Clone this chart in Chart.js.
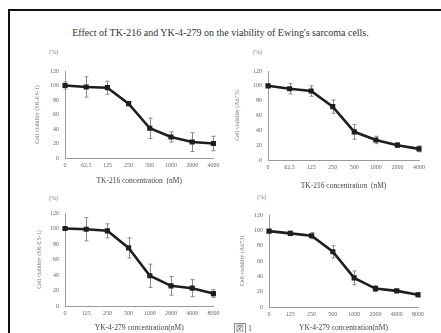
<!DOCTYPE html>
<html>
<head>
<meta charset="utf-8">
<script src="https://cdn.jsdelivr.net/npm/chart.js@4.4.1/dist/chart.umd.min.js"></script>
<style>
body { margin: 0; background: #fff; width: 441px; height: 333px; overflow: hidden; position: relative; font-family: "Liberation Serif", "DejaVu Serif", serif; }
.frame { position: absolute; left: 8px; top: 9px; width: 460px; height: 400px; border-left: 2px solid #111; border-top: 2px solid #111; }
.title { position: absolute; left: 0; width: 441px; top: 27px; text-align: center; font-size: 10px; color: #333; }
.pct { position: absolute; font-size: 6px; color: #777; }
.fig { position: absolute; left: 234px; top: 323px; font-size: 8px; color: #555; }
.fig span { border: 1px solid #888; padding: 0 1px; margin-right: 2px; }
canvas { position: absolute; }
</style>
</head>
<body>
<div class="frame"></div>
<div class="title">Effect of TK-216 and YK-4-279 on the viability of Ewing's sarcoma cells.</div>
<div class="pct" style="left:49px;top:49px">(%)</div>
<div class="pct" style="left:253px;top:49px">(%)</div>
<div class="pct" style="left:49px;top:195px">(%)</div>
<div class="pct" style="left:257px;top:194px">(%)</div>
<canvas id="c1" width="206" height="135" style="left:14px;top:60px"></canvas>
<canvas id="c2" width="219" height="135" style="left:222px;top:60px"></canvas>
<canvas id="c3" width="206" height="130" style="left:14px;top:203px"></canvas>
<canvas id="c4" width="219" height="128" style="left:222px;top:205px"></canvas>
<div class="fig"><span>図</span>1</div>
<script>
// 濃度ラベル
const dosisTK = ['0', '62.5', '125', '250', '500', '1000', '2000', '4000'];
const dosisYK = ['0', '125', '250', '500', '1000', '2000', '4000', '8000'];

// viabilidad (%) y error
const skesTK = [100, 98, 97, 75, 41, 29, 22, 20];
const errSkesTK = [5, 14, 9, 3, 14, 7, 13, 10];
const a673TK = [100, 96, 93, 72, 38, 27, 20, 15];
const errA673TK = [2, 7, 7, 9, 10, 5, 3, 4];
const skesYK = [100, 99, 97, 75, 39, 26, 23, 16];
const errSkesYK = [2, 15, 9, 13, 15, 12, 11, 5];
const a673YK = [99, 96, 93, 72, 38, 24, 21, 16];
const errA673YK = [2, 3, 4, 8, 9, 4, 2, 3];

const ticksY = [0, 20, 40, 60, 80, 100, 120];

const fuente = '"Liberation Serif", "DejaVu Serif", serif';

const barrasError = {
    id: 'barrasError',
    beforeDatasetsDraw(chart) {
        const ctx = chart.ctx;
        const ds = chart.data.datasets[0];
        const y = chart.scales.y;
        ctx.save();
        ctx.strokeStyle = '#8a8a8a';
        ctx.lineWidth = 1;
        chart.getDatasetMeta(0).data.forEach((pt, i) => {
            const arriba = y.getPixelForValue(ds.data[i] + ds.errores[i]);
            const abajo = y.getPixelForValue(ds.data[i] - ds.errores[i]);
            const x = Math.round(pt.x) + 0.5;
            ctx.beginPath();
            ctx.moveTo(x, arriba); ctx.lineTo(x, abajo);
            ctx.moveTo(x - 2, arriba); ctx.lineTo(x + 2, arriba);
            ctx.moveTo(x - 2, abajo); ctx.lineTo(x + 2, abajo);
            ctx.stroke();
        });
        ctx.restore();
    }
};

function crearPanel(id, etiquetas, valores, errores, tituloY, tituloX, caja) {
    new Chart(document.getElementById(id), {
        type: 'line',
        data: {
            labels: etiquetas,
            datasets: [{
                data: valores,
                errores: errores,
                borderColor: '#1e1e1e',
                backgroundColor: '#1e1e1e',
                borderWidth: 2.6,
                pointStyle: 'rect',
                pointRadius: 1.8,
                tension: 0
            }]
        },
        options: {
            responsive: false,
            animation: false,
            devicePixelRatio: 1,
            layout: { padding: { top: caja.arriba, right: caja.derecha, left: 0, bottom: 0 } },
            plugins: { legend: { display: false }, tooltip: { enabled: false } },
            scales: {
                x: {
                    offset: false,
                    grid: { display: false, drawTicks: false },
                    border: { color: '#9a9a9a', width: 1 },
                    ticks: { font: { family: fuente, size: 6 }, color: '#666', padding: 4, maxRotation: 0, autoSkip: false },
                    title: { display: true, text: tituloX, font: { family: fuente, size: 7.5 }, color: '#444', padding: { top: 0, bottom: caja.padX } },
                    afterFit(s) { s.height = caja.altoX; s.paddingLeft = 0; s.paddingRight = 0; }
                },
                y: {
                    min: 0,
                    max: 120,
                    afterBuildTicks(s) { s.ticks = ticksY.map(v => ({ value: v })); },
                    grid: { display: false, drawTicks: false },
                    border: { color: '#9a9a9a', width: 1 },
                    ticks: { font: { family: fuente, size: 6 }, color: '#666', padding: 6 },
                    title: { display: true, text: tituloY, font: { family: fuente, size: 6 }, color: '#777', padding: { top: caja.padY, bottom: 0 } },
                    afterFit(s) { s.width = caja.anchoY; s.paddingTop = 0; s.paddingBottom = 0; }
                }
            }
        },
        plugins: [barrasError]
    });
}

document.addEventListener("DOMContentLoaded", () => {
    crearPanel('c1', dosisTK, skesTK, errSkesTK, 'Cell viability (SK-ES-1)', 'TK-216 concentration  (nM)',
        { arriba: 11, derecha: 5, altoX: 37, anchoY: 51, padX: 9, padY: 20 });
    crearPanel('c2', dosisTK, a673TK, errA673TK, 'Cell viability (A673)', 'TK-216 concentration  (nM)',
        { arriba: 11, derecha: 22, altoX: 35, anchoY: 46, padX: 4, padY: 12 });
    crearPanel('c3', dosisYK, skesYK, errSkesYK, 'Cell viability (SK-ES-1)', 'YK-4-279 concentration(nM)',
        { arriba: 10, derecha: 5, altoX: 27, anchoY: 51, padX: 0, padY: 22 });
    crearPanel('c4', dosisYK, a673YK, errA673YK, 'Cell viability (A673)', 'YK-4-279 concentration(nM)',
        { arriba: 10, derecha: 23, altoX: 26, anchoY: 47, padX: 0, padY: 17 });
});
</script>
</body>
</html>
